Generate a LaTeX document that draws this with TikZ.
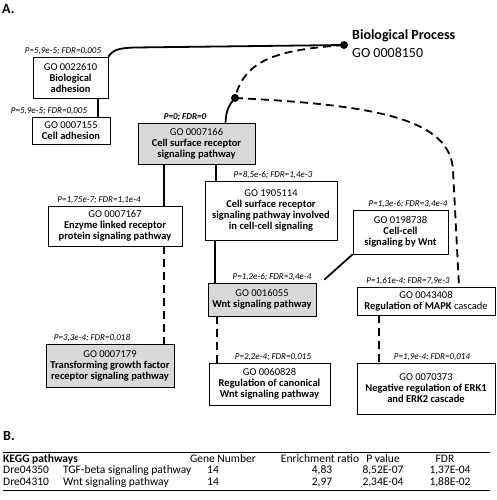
\documentclass[tikz,border=0pt]{standalone}
\usepackage{fontspec}
\setmainfont{Carlito}
\usepackage{tikz}
\usetikzlibrary{positioning, calc}
\definecolor{boxgray}{RGB}{217, 217, 217}

\tikzset{
    gobox/.style={draw, line width=0.7pt, fill=white, align=center, inner sep=1pt,
        font=\fontsize{10.5}{11}\selectfont},
    gogray/.style={gobox, fill=boxgray},
    plabel/.style={inner sep=1pt, font=\itshape\fontsize{9}{9}\selectfont},
    link/.style={line width=1.8pt},
    dlink/.style={line width=1.8pt, dash pattern=on 8pt off 5pt},
    dot/.style={circle, fill=black, inner sep=0pt, minimum size=8pt},
    panel/.style={inner sep=0pt, font=\bfseries\fontsize{14}{14}\selectfont},
    tabtxt/.style={inner sep=0pt, font=\fontsize{11.5}{12}\selectfont},
}

\begin{document}
\begin{tikzpicture}[x=1pt, y=-1pt]
    \useasboundingbox (0,0) rectangle (497,500);

    % A. GO tree
    \node[panel, anchor=north west] (pa) at (2,4) {A.};

    \node[dot] (bpdot) at (344,45) {};
    \node[anchor=west, align=left, inner sep=0pt, font=\fontsize{14}{18}\selectfont] (bp) at (352,44)
        {\textbf{Biological Process}\\GO 0008150};
    \node[dot] (split) at (235,98) {};

    \node[gobox, minimum width=75pt, minimum height=41pt] (bioadh) at (70.5,77.5)
        {GO 0022610\\\textbf{Biological}\\\textbf{adhesion}};
    \node[gobox, minimum width=78pt, minimum height=27pt] (celladh) at (71,130.5)
        {GO 0007155\\\textbf{Cell adhesion}};
    \node[gogray, minimum width=117pt, minimum height=41pt] (csrsp) at (196.5,143.5)
        {GO 0007166\\\textbf{Cell surface receptor}\\\textbf{signaling pathway}};
    \node[gobox, minimum width=134pt, minimum height=40pt] (enzyme) at (115,226)
        {GO 0007167\\\textbf{Enzyme linked receptor}\\\textbf{protein signaling pathway}};
    \node[gogray, minimum width=128pt, minimum height=43pt] (tgf) at (110,365.5)
        {GO 0007179\\\textbf{Transforming growth factor}\\\textbf{receptor signaling pathway}};
    \node[gobox, minimum width=132pt, minimum height=59pt] (csrcc) at (271,210.5)
        {GO 1905114\\\textbf{Cell surface receptor}\\\textbf{signaling pathway involved}\\\textbf{in cell-cell signaling}};
    \node[gobox, minimum width=95pt, minimum height=44pt] (ccwnt) at (400.5,232)
        {GO 0198738\\\textbf{Cell-cell}\\\textbf{signaling by Wnt}};
    \node[gogray, minimum width=108pt, minimum height=33pt] (wnt) at (262,299.5)
        {GO 0016055\\\textbf{Wnt signaling pathway}};
    \node[gobox, minimum width=121pt, minimum height=42pt] (canwnt) at (269.5,384)
        {GO 0060828\\\textbf{Regulation of canonical}\\\textbf{Wnt signaling pathway}};
    \node[gobox, minimum width=138pt, minimum height=28pt] (mapk) at (426,301)
        {GO 0043408\\\textbf{Regulation of MAPK} cascade};
    \node[gobox, minimum width=138pt, minimum height=51pt] (erk) at (426,388.5)
        {GO 0070373\\\textbf{Negative regulation of ERK1}\\\textbf{and ERK2 cascade}};

    % enrichment values
    \node[plabel, above=1pt of bioadh, xshift=-7.5pt] (bioadhp) {P=5,9e-5; FDR=0,005};
    \node[plabel, above=1pt of celladh, xshift=-22pt] (celladhp) {P=5,9e-5; FDR=0,005};
    \node[plabel, above=1pt of csrsp, xshift=-11.5pt, font=\bfseries\itshape\fontsize{9}{9}\selectfont] (csrspp) {P=0; FDR=0};
    \node[plabel, above=1pt of enzyme, xshift=-16pt] (enzymep) {P=1,75e-7; FDR=1,1e-4};
    \node[plabel, above=1pt of tgf, xshift=-18pt] (tgfp) {P=3,3e-4; FDR=0,018};
    \node[plabel, above=1pt of csrcc, xshift=2pt] (csrccp) {P=8,5e-6; FDR=1,4e-3};
    \node[plabel, above=1pt of ccwnt, xshift=7.5pt] (ccwntp) {P=1,3e-6; FDR=3,4e-4};
    \node[plabel, above=1pt of wnt, xshift=10pt] (wntp) {P=1,2e-6; FDR=3,4e-4};
    \node[plabel, above=1pt of canwnt, xshift=3.5pt] (canwntp) {P=2,2e-4; FDR=0,015};
    \node[plabel, above=1pt of mapk, xshift=-18pt] (mapkp) {P=1,61e-4; FDR=7,9e-3};
    \node[plabel, above=1pt of erk, xshift=6pt] (erkp) {P=1,9e-4; FDR=0,014};

    % connectors
    \draw[link] (bioadh.north east) .. controls (113,50) and (118,48) .. (135,47.5) -- (bpdot.center);
    \draw[dlink] (bpdot.center) .. controls (280,50) and (245,58) .. (split.center);
    \draw[link] (split.center) .. controls (228,106) and (226,112) .. ([xshift=29pt]csrsp.north);
    \draw[dlink] (split.center) .. controls (380,105) and (450,120) .. (453,170) -- ([xshift=33pt]mapk.north);
    \draw[link] ([xshift=27.5pt]bioadh.south) -- ([xshift=27pt]celladh.north);
    \draw[link] ([xshift=-32.5pt]csrsp.south) -- ([xshift=49pt]enzyme.north);
    \draw[dlink] ([xshift=49pt]enzyme.south) -- ([xshift=54pt]tgf.north);
    \draw[link] ([xshift=19.5pt]csrsp.south) -- ([xshift=-55pt]csrcc.north);
    \draw[link] ([xshift=-56pt]csrcc.south) -- ([xshift=-47pt]wnt.north);
    \draw[link] (ccwnt.south west) -- ([xshift=8pt, yshift=3pt]wnt.north east);
    \draw[dlink] ([xshift=-45pt]wnt.south) -- ([xshift=-52.5pt]canwnt.north);
    \draw[dlink] ([xshift=-47pt]mapk.south) -- ([xshift=-47pt]erk.north);

    % B. KEGG table
    \node[panel, anchor=north west] (pb) at (3,431) {B.};
    \draw[line width=0.9pt] (3,452) -- (490,452);
    \draw[line width=0.9pt] (3,490) -- (490,490);
    \node[tabtxt, anchor=base west] (hkegg) at (3,462) {\textbf{KEGG pathways}};
    \node[tabtxt, anchor=base] (hgene) at (223,462) {Gene Number};
    \node[tabtxt, anchor=base] (hratio) at (320,462) {Enrichment ratio};
    \node[tabtxt, anchor=base] (hpval) at (383,462) {P value};
    \node[tabtxt, anchor=base] (hfdr) at (445,462) {FDR};
    \foreach \kid/\kname/\kgenes/\kratio/\kpval/\kfdr [count=\r] in {
        Dre04350/TGF-beta signaling pathway/14/{4,83}/{8,52E-07}/{1,37E-04},
        Dre04310/Wnt signaling pathway/14/{2,97}/{2,34E-04}/{1,88E-02}}{
        \node[tabtxt, anchor=base west] (kid\r) at (3,462+11.5*\r) {\kid};
        \node[tabtxt, anchor=base west] (kname\r) at (63,462+11.5*\r) {\kname};
        \node[tabtxt, anchor=base] (kgenes\r) at (213,462+11.5*\r) {\kgenes};
        \node[tabtxt, anchor=base] (kratio\r) at (322,462+11.5*\r) {\kratio};
        \node[tabtxt, anchor=base] (kpval\r) at (383,462+11.5*\r) {\kpval};
        \node[tabtxt, anchor=base] (kfdr\r) at (450,462+11.5*\r) {\kfdr};
    }
\end{tikzpicture}
\end{document}
